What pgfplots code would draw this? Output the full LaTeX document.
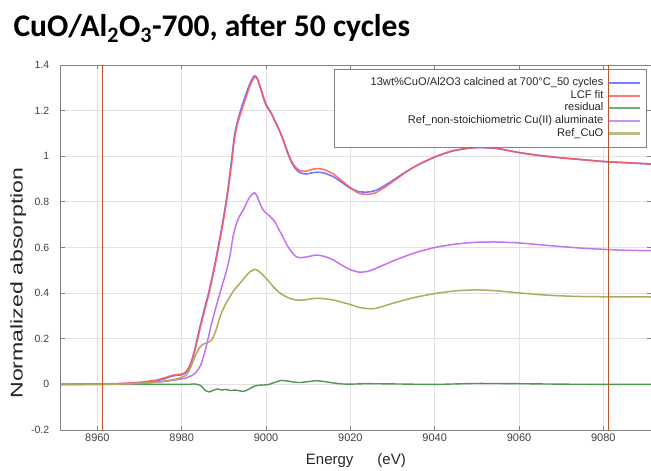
\documentclass[border=0pt]{standalone}
\usepackage{pgfplots}
\pgfplotsset{compat=1.18}
\usepackage{fontspec}
\setmainfont{Liberation Sans}
\newfontfamily\titlefont{Carlito}
\definecolor{cdata}{RGB}{95,95,255}
\definecolor{cfit}{RGB}{255,90,90}
\definecolor{cres}{RGB}{80,150,80}
\definecolor{cpur}{RGB}{195,115,240}
\definecolor{coli}{RGB}{175,170,95}
\definecolor{corg}{RGB}{190,85,45}
\definecolor{cgrid}{RGB}{226,226,226}
\definecolor{caxis}{RGB}{128,128,128}
\pgfplotsset{
  common/.style={
    at={(60.7pt,41pt)}, anchor=south west,
    width=590.3pt, height=365pt, scale only axis,
    xmin=8951.3, xmax=9091.3, ymin=-0.2, ymax=1.4,
  }
}
\begin{document}
\begin{tikzpicture}[x=1pt,y=1pt]
\useasboundingbox (0,0) rectangle (651,471);
\node[anchor=base west, inner sep=0pt, font=\titlefont\bfseries\fontsize{31.5}{36}\selectfont] at (13.3,434) {CuO/Al\textsubscript{2}O\textsubscript{3}-700, after 50 cycles};
\begin{axis}[common,
  xtick={8960,8980,9000,9020,9040,9060,9080},
  xticklabels={8960,8980,9000,9020,9040,9060,9080},
  ytick={-0.2,0,0.2,0.4,0.6,0.8,1,1.2,1.4},
  yticklabels={-0.2,0,0.2,0.4,0.6,0.8,1,1.2,1.4},
  grid=major, grid style={color=cgrid, line width=0.9pt},
  axis line style={color=caxis, line width=0.9pt},
  tick align=inside, major tick length=4pt,
  tick style={color=caxis, line width=0.8pt},
  xticklabel style={font=\fontsize{11}{13}\selectfont, text=black!75},
  yticklabel style={font=\fontsize{10.5}{12}\selectfont, text=black!75, xshift=-8pt},
  xlabel={Energy\hspace{24pt}(eV)},
  xlabel style={font=\fontsize{15}{18}\selectfont, text=black!85, at={(axis description cs:0.5,-0.094)}, anchor=base},
  ylabel={\scalebox{1.36}[1]{Normalized absorption}},
  ylabel style={font=\fontsize{17}{20}\selectfont, text=black!85, at={(axis description cs:-0.0718,0.4027)}, anchor=center},
  legend cell align=right, legend plot pos=right,
  legend image code/.code={\draw[#1, line width=2.2pt, opacity=0.8] (0pt,0pt) -- (31pt,0pt);},
  legend style={at={(rel axis cs:0.9915,0.989)}, anchor=north east,
    draw=caxis, fill=white, inner xsep=5pt, inner ysep=7.5pt,
    font=\fontsize{11.1}{13}\selectfont, text=black!85, column sep=3pt,
    nodes={text height=7.8pt, text depth=2.4pt, inner sep=1.2pt}},
]
\addplot[cdata, line width=1.6pt, opacity=0.85, smooth, tension=0.4] coordinates {
(8951.3,0.000) (8958,0.001) (8964,0.002) (8968,0.005) (8971,0.009) (8974,0.016) (8976,0.025) (8977.5,0.035) (8978.8,0.040) (8980,0.042) (8981,0.052) (8982,0.085) (8983,0.145) (8984.3,0.25) (8985.5,0.34) (8986.5,0.41) (8988,0.54) (8989.1,0.647) (8990,0.74) (8991,0.86) (8991.8,0.98) (8992.5,1.09) (8993.2,1.15) (8994.2,1.215) (8995.2,1.27) (8996.2,1.32) (8997.2,1.352) (8997.8,1.345) (8998.5,1.31) (8999.3,1.26) (9000.1,1.22) (9001.2,1.19) (9002.1,1.155) (9003,1.12) (9004,1.075) (9005,1.02) (9006,0.975) (9007,0.945) (9008,0.928) (9009.5,0.922) (9011,0.928) (9012.5,0.93) (9014,0.925) (9016,0.91) (9018,0.885) (9020,0.86) (9022,0.845) (9024,0.843) (9026,0.85) (9028,0.87) (9030,0.893) (9033,0.93) (9036,0.962) (9040,0.996) (9044,1.022) (9048,1.035) (9051,1.038) (9055,1.033) (9060,1.016) (9065,1.003) (9070,0.993) (9075,0.985) (9080,0.977) (9085,0.972) (9091.3,0.966)};
\addlegendentry{\hspace*{30pt}13wt\%CuO/Al2O3 calcined at 700°C\_50 cycles}
\addplot[cfit, line width=1.6pt, opacity=0.85, smooth, tension=0.4] coordinates {
(8951.3,0) (8958,0.001) (8964,0.003) (8968,0.006) (8971,0.011) (8974,0.019) (8976,0.029) (8977.5,0.038) (8978.8,0.043) (8980,0.045) (8981,0.055) (8982,0.085) (8983,0.14) (8984.3,0.24) (8985.5,0.33) (8986.5,0.40) (8988,0.53) (8989.1,0.637) (8990,0.73) (8991,0.85) (8991.8,0.965) (8992.5,1.075) (8993.2,1.14) (8994.2,1.20) (8995.2,1.255) (8996.2,1.31) (8997.2,1.345) (8997.8,1.343) (8998.5,1.31) (8999.3,1.265) (9000.1,1.225) (9001.2,1.19) (9002.1,1.155) (9003,1.12) (9004,1.075) (9005,1.025) (9006,0.98) (9007,0.952) (9008,0.937) (9009.5,0.935) (9011,0.943) (9012.5,0.946) (9014,0.94) (9016,0.922) (9018,0.892) (9020,0.862) (9022,0.838) (9024,0.833) (9026,0.84) (9028,0.862) (9030,0.888) (9033,0.928) (9036,0.962) (9040,0.997) (9044,1.023) (9048,1.036) (9051,1.039) (9055,1.034) (9060,1.016) (9065,1.003) (9070,0.993) (9075,0.985) (9080,0.977) (9085,0.972) (9091.3,0.966)};
\addlegendentry{LCF fit}
\addplot[cres, line width=1.4pt, smooth, tension=0.4] coordinates {
(8951.3,0) (8980,0.0) (8983,0.002) (8984.5,-0.005) (8985.5,-0.025) (8986.5,-0.033) (8987.5,-0.026) (8988.5,-0.02) (8989.5,-0.025) (8990.5,-0.022) (8991.5,-0.027) (8992.5,-0.025) (8993.5,-0.027) (8994.5,-0.031) (8995.5,-0.025) (8996.5,-0.015) (8997.5,-0.006) (8999,-0.003) (9000.5,-0.001) (9002,0.008) (9003.5,0.017) (9005,0.015) (9006.5,0.01) (9008,0.008) (9010,0.012) (9012,0.016) (9014,0.012) (9016,0.006) (9018,0.002) (9020,0.001) (9024,0.003) (9030,0.002) (9040,0.0) (9050,0.004) (9060,0.003) (9070,0.001) (9080,0.0) (9091.3,0)};
\addlegendentry{residual}
\addplot[cpur, line width=1.5pt, smooth, tension=0.4] coordinates {
(8951.3,0) (8965,0.001) (8972,0.006) (8976,0.013) (8979,0.021) (8981,0.028) (8982.5,0.04) (8983.5,0.055) (8984.5,0.085) (8985.3,0.13) (8986,0.18) (8987,0.26) (8988,0.33) (8989.5,0.428) (8990.5,0.49) (8991.4,0.56) (8992.2,0.65) (8993,0.706) (8993.8,0.74) (8994.6,0.765) (8995.5,0.8) (8996.2,0.823) (8997.3,0.84) (8998,0.82) (8998.5,0.795) (8999.3,0.765) (9000.1,0.75) (9001,0.735) (9002.1,0.713) (9003,0.68) (9004,0.647) (9005,0.61) (9006,0.582) (9007,0.562) (9008,0.555) (9010,0.56) (9012,0.567) (9014,0.56) (9016,0.545) (9018,0.522) (9020,0.503) (9022,0.492) (9024,0.495) (9026,0.508) (9030,0.54) (9035,0.575) (9040,0.6) (9045,0.615) (9050,0.623) (9055,0.624) (9060,0.62) (9065,0.612) (9070,0.604) (9075,0.597) (9080,0.592) (9085,0.588) (9091.3,0.586)};
\addlegendentry{Ref\_non-stoichiometric Cu(II) aluminate}
\addplot[coli, line width=1.5pt, smooth, tension=0.4] coordinates {
(8951.3,0) (8965,0.001) (8972,0.007) (8976,0.015) (8979,0.025) (8981,0.04) (8982,0.07) (8983,0.115) (8984,0.155) (8985,0.175) (8986,0.182) (8987.1,0.194) (8988,0.23) (8989.1,0.297) (8990.2,0.345) (8991.4,0.384) (8992.5,0.415) (8993.8,0.443) (8995,0.47) (8996.2,0.494) (8997.3,0.504) (8998.2,0.497) (8999.3,0.479) (9000.5,0.455) (9001.7,0.428) (9003,0.405) (9004,0.392) (9005.5,0.378) (9007.2,0.37) (9009,0.37) (9011,0.376) (9013,0.377) (9015.9,0.37) (9018,0.36) (9020,0.35) (9022,0.338) (9024,0.332) (9026,0.333) (9030,0.355) (9035,0.38) (9040,0.398) (9045,0.41) (9050,0.414) (9055,0.41) (9060,0.401) (9065,0.393) (9070,0.388) (9075,0.385) (9080,0.384) (9091.3,0.383)};
\addlegendentry{Ref\_CuO}
\end{axis}
\begin{axis}[common, hide axis]
\addplot[corg, line width=1.4pt] coordinates {(8961.2,-0.2) (8961.2,1.4)};
\addplot[corg, line width=1.4pt] coordinates {(9081.2,-0.2) (9081.2,1.4)};
\end{axis}
\end{tikzpicture}
\end{document}
